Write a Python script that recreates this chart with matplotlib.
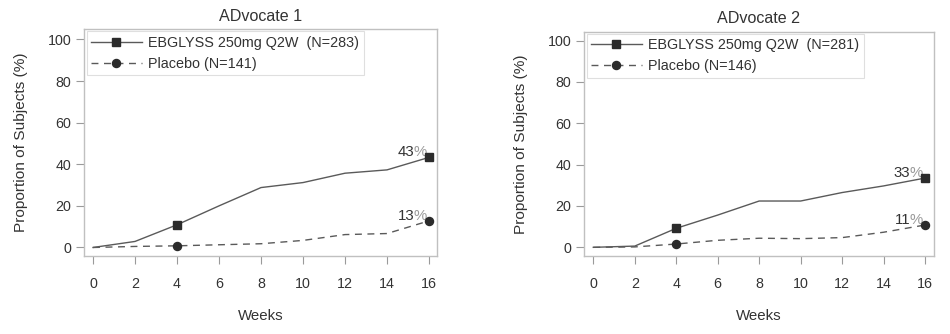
import matplotlib
matplotlib.use("Agg")
import matplotlib.pyplot as plt

plt.rcParams['font.family'] = ['Liberation Sans', 'DejaVu Sans']

weeks = [0, 2, 4, 6, 8, 10, 12, 14, 16]
marker_weeks = [4, 16]

titles = ["ADvocate 1", "ADvocate 2"]
ebg_labels = ["EBGLYSS 250mg Q2W  (N=283)", "EBGLYSS 250mg Q2W  (N=281)"]
pbo_labels = ["Placebo (N=141)", "Placebo (N=146)"]

ebg1 = [0, 2.9, 10.9, 20.0, 28.8, 31.2, 35.7, 37.3, 43.3]
pbo1 = [0, 0.5, 0.8, 1.3, 1.8, 3.4, 6.2, 6.7, 12.8]
ebg2 = [0, 0.6, 9.2, 15.6, 22.4, 22.4, 26.5, 29.7, 33.5]
pbo2 = [0, 0.2, 1.6, 3.4, 4.4, 4.2, 4.7, 7.3, 10.8]

ebg_final = ["43", "33"]
pbo_final = ["13", "11"]

ebg_series = [ebg1, ebg2]
pbo_series = [pbo1, pbo2]

xticks = [0, 2, 4, 6, 8, 10, 12, 14, 16]
yticks = [0, 20, 40, 60, 80, 100]

TXT = '#333333'
LINE = '#5a5a5a'
MARK = '#2b2b2b'
FRAME = '#c0c0c0'

fig = plt.figure(figsize=(9.5, 3.34), dpi=100)
positions = [
    [0.0884, 0.2335, 0.3716, 0.6796],
    [0.6147, 0.2335, 0.3684, 0.6716],
]
xlims = [(-0.43, 16.38), (-0.45, 16.43)]
ylims = [(-4.1, 105.0), (-4.2, 104.3)]

for i in range(2):
    ax = fig.add_axes(positions[i])
    ebg = ebg_series[i]
    pbo = pbo_series[i]
    ax.plot(weeks, ebg, color=LINE, lw=1.0, zorder=3)
    ax.plot(weeks, pbo, color=LINE, lw=1.0, dashes=(5, 4), zorder=3)
    my_e = [ebg[weeks.index(w)] for w in marker_weeks]
    my_p = [pbo[weeks.index(w)] for w in marker_weeks]
    ax.plot(marker_weeks, my_e, ls='none', marker='s', ms=5.2, color=MARK, zorder=4)
    ax.plot(marker_weeks, my_p, ls='none', marker='o', ms=5.8, color=MARK, zorder=4)

    # legend proxies
    h1, = ax.plot([], [], color=LINE, lw=1.0, marker='s', ms=5.2, mfc=MARK, mec=MARK)
    h2, = ax.plot([], [], color=LINE, lw=1.0, dashes=(5, 4), marker='o', ms=5.8, mfc=MARK, mec=MARK)
    leg = ax.legend([h1, h2], [ebg_labels[i], pbo_labels[i]], loc='upper left',
                    bbox_to_anchor=(0.008, 0.99), fontsize=10.4, frameon=True,
                    fancybox=False, edgecolor='#d8d8d8', handlelength=3.5,
                    handletextpad=0.45, borderpad=0.3, labelspacing=0.5,
                    borderaxespad=0.0, labelcolor=TXT)
    leg.get_frame().set_linewidth(0.8)

    # annotations at week 16
    for val, txt in [(ebg[-1], ebg_final[i]), (pbo[-1], pbo_final[i])]:
        ax.annotate('%', xy=(16, val), xytext=(-1.5, -1.5), textcoords='offset points',
                    ha='right', va='bottom', fontsize=10.8, color='#9a9a9a')
        ax.annotate(txt, xy=(16, val), xytext=(-10.6, -1.5), textcoords='offset points',
                    ha='right', va='bottom', fontsize=10.8, color=TXT)

    ax.set_xlim(*xlims[i])
    ax.set_ylim(*ylims[i])
    ax.set_xticks(xticks)
    ax.set_yticks(yticks)
    for s in ax.spines.values():
        s.set_color(FRAME)
        s.set_linewidth(1.0)
    ax.tick_params(axis='both', direction='out', color='#9a9a9a', length=6,
                   width=0.8, labelcolor=TXT, labelsize=10.3)
    ax.tick_params(axis='x', pad=9)
    ax.tick_params(axis='y', pad=3)
    ax.set_title(titles[i], fontsize=11.6, color=TXT, pad=6)
    ax.set_xlabel('Weeks', fontsize=10.8, color=TXT, labelpad=13)
    ax.set_ylabel('Proportion of Subjects (%)', fontsize=11.1, color=TXT, labelpad=14)

fig.savefig('out.png', dpi=100)
